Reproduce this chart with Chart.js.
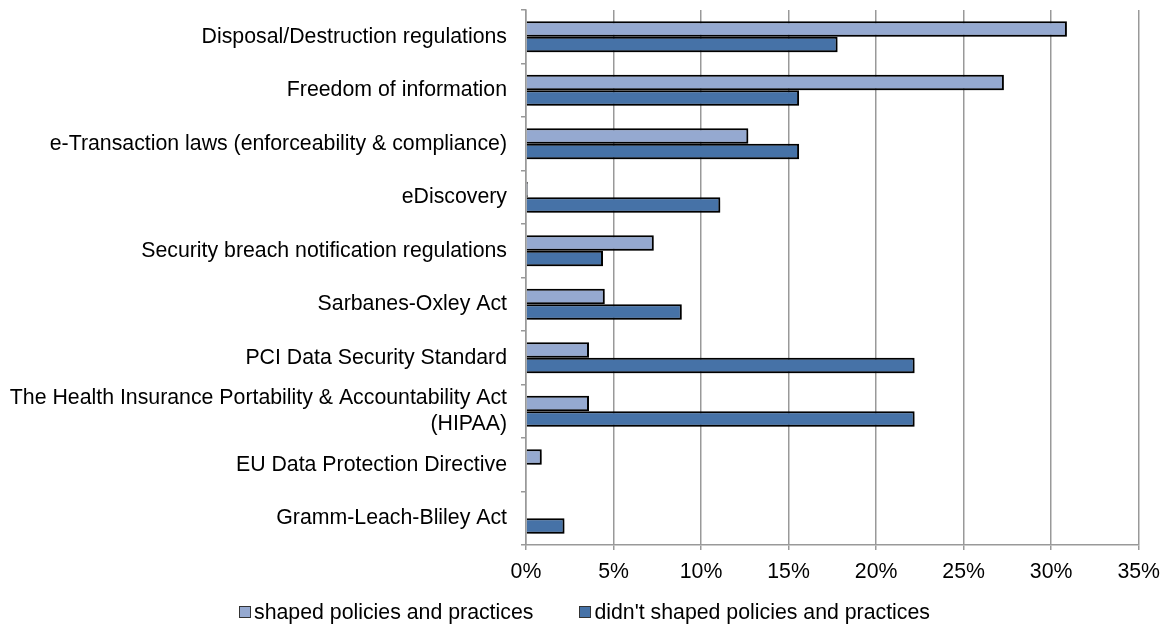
<!DOCTYPE html>
<html>
<head>
<meta charset="utf-8">
<script src="https://cdn.jsdelivr.net/npm/chart.js@4/dist/chart.umd.min.js"></script>
<style>
  html, body { margin: 0; padding: 0; background: #fff; }
  #wrap { width: 1169px; height: 632px; position: relative; }
  #legend {
    position: absolute; left: 0; right: 0; top: 599px;
    display: flex; justify-content: center; gap: 46px;
    font-family: 'Liberation Sans', Arial, sans-serif; font-size: 21.3px;
    line-height: 26px; color: #000;
  }
  #legend span.item { display: flex; align-items: center; white-space: nowrap; }
  #legend i { display: inline-block; width: 10px; height: 10px; border: 1px solid #333; margin-right: 3px; }
</style>
</head>
<body>
<div id="wrap">
  <canvas id="chart"></canvas>
  <div id="legend"></div>
</div>
<script>
// categories, top to bottom
const categories = [
  "Disposal/Destruction regulations",
  "Freedom of information",
  "e-Transaction laws (enforceability & compliance)",
  "eDiscovery",
  "Security breach notification regulations",
  "Sarbanes-Oxley Act",
  "PCI Data Security Standard",
  ["The Health Insurance Portability & Accountability Act", "(HIPAA)"],
  "EU Data Protection Directive",
  "Gramm-Leach-Bliley Act"
]

// percentages
const shapedValues = [30.9, 27.3, 12.7, 0.1, 7.3, 4.5, 3.6, 3.6, 0.9, 0]
const notShapedValues = [17.8, 15.6, 15.6, 11.1, 4.4, 8.9, 22.2, 22.2, 0, 2.2]

const seriesNames = ["shaped policies and practices", "didn't shaped policies and practices"]
const seriesColors = ['#95a9d0', '#4672a7']
const xTicks = [0, 5, 10, 15, 20, 25, 30, 35]

const FONT = "'Liberation Sans', Arial, sans-serif"
const FONT_SIZE = 21.3

// soft drop shadow behind the bars, like the office chart
const barShadow = {
  id: 'barShadow',
  beforeDatasetsDraw(chart) {
    const ctx = chart.ctx
    ctx.save()
    ctx.shadowColor = 'rgba(0,0,0,0.35)'
    ctx.shadowBlur = 5
    ctx.shadowOffsetX = 2
    ctx.shadowOffsetY = 2
  },
  afterDatasetsDraw(chart) {
    chart.ctx.restore()
  }
}

const ctx = document.getElementById('chart').getContext('2d')
const chart = new Chart(ctx, {
  type: 'bar',
  data: {
    labels: categories,
    datasets: seriesNames.map((name, i) => ({
      label: name,
      data: i === 0 ? shapedValues : notShapedValues,
      backgroundColor: seriesColors[i],
      borderColor: '#000',
      borderWidth: 2,
      categoryPercentage: 0.58,
      barPercentage: 1
    }))
  },
  options: {
    indexAxis: 'y',
    responsive: true,
    maintainAspectRatio: false,
    animation: false,
    layout: { padding: { top: 10, right: 30, left: 0, bottom: 47 } },
    scales: {
      x: {
        min: 0,
        max: 35,
        afterBuildTicks(scale) {
          scale.ticks = xTicks.map(v => ({ value: v }))
        },
        afterFit(scale) { scale.height = 40 },
        grid: {
          color: '#999',
          lineWidth: 1.5,
          tickLength: 5
        },
        border: { color: '#999', width: 1.5 },
        ticks: {
          padding: 9,
          color: '#000',
          font: { family: FONT, size: FONT_SIZE },
          callback: v => v + '%'
        }
      },
      y: {
        afterFit(scale) {
          scale.width = 526
          scale.paddingTop = 0
          scale.paddingBottom = 0
        },
        grid: {
          offset: true,
          drawOnChartArea: false,
          color: '#999',
          lineWidth: 1.5,
          tickLength: 5
        },
        border: { color: '#999', width: 1.5 },
        ticks: {
          autoSkip: false,
          padding: 14,
          color: '#000',
          font: { family: FONT, size: FONT_SIZE, lineHeight: 1.2 }
        }
      }
    },
    plugins: {
      tooltip: { enabled: false },
      legend: { display: false }
    }
  },
  plugins: [barShadow]
})

// legend built from the chart's own datasets
const legendEl = document.getElementById('legend')
chart.data.datasets.forEach(ds => {
  const item = document.createElement('span')
  item.className = 'item'
  const box = document.createElement('i')
  box.style.background = ds.backgroundColor
  item.appendChild(box)
  item.appendChild(document.createTextNode(ds.label))
  legendEl.appendChild(item)
})
</script>
</body>
</html>
